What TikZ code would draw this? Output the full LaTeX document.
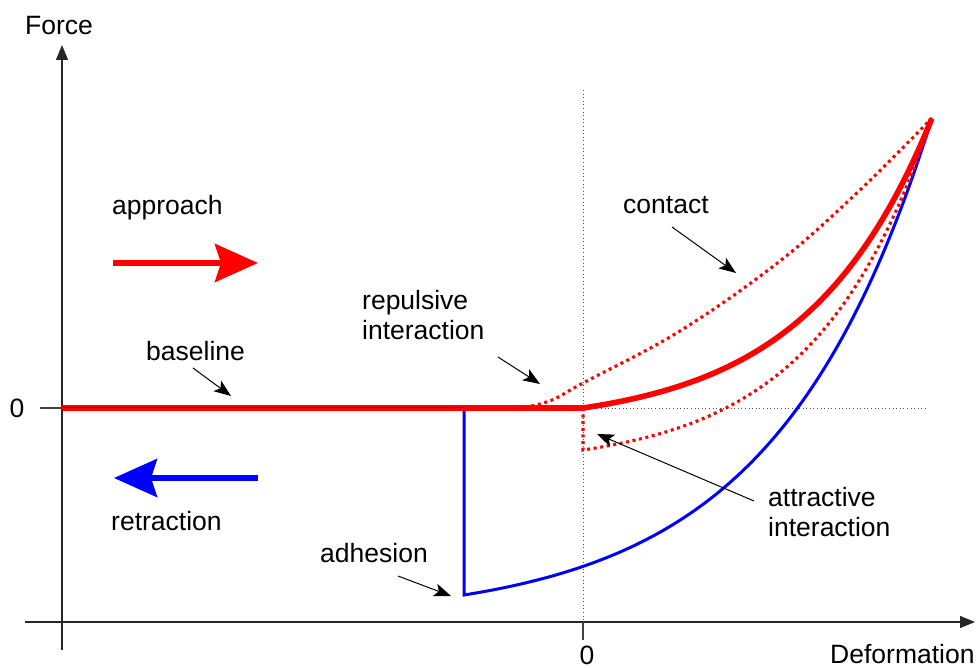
\documentclass[tikz,border=0pt]{standalone}
\usepackage{fontspec}
\setmainfont{Liberation Sans}
\usetikzlibrary{arrows.meta}
\begin{document}
\begin{tikzpicture}[x=1pt,y=-1pt,
  lbl/.style={anchor=west,inner sep=0pt,font=\fontsize{26.5}{30}\selectfont,align=left},
  axisline/.style={line width=1.3pt,draw=black!85,-{Triangle[length=15pt,width=12pt]}},
  tick/.style={line width=1.3pt,draw=black!75},
  note/.style={line width=1pt,-{Stealth[length=17pt,width=13pt,inset=4pt]}},
  bigarrow/.style={line width=5.5pt,-{Stealth[length=43pt,width=38pt,inset=6pt]}},
  guide/.style={line width=1pt,draw=black!70,dash pattern=on 1pt off 2.6pt},
  reddot/.style={draw=red,line width=3.1pt,dash pattern=on 3pt off 3.6pt},
  approachline/.style={draw=red,line width=5.6pt,line join=round},
  retractline/.style={draw=blue,line width=3pt,line join=miter}
]
\useasboundingbox (0,0) rectangle (977,668);

% axes
\coordinate (yb) at (62,650);
\coordinate (yt) at (62,45);
\coordinate (xl) at (25,622);
\coordinate (xr) at (975,622);
\draw[axisline] (yb) -- (yt);
\draw[axisline] (xl) -- (xr);
\coordinate (ty) at (40,408);
\coordinate (ya) at (62,408);
\coordinate (tx) at (583,640);
\coordinate (xa) at (583,622);
\draw[tick] (ty) -- (ya);
\draw[tick] (xa) -- (tx);

% guides
\coordinate (vt) at (583,90);
\coordinate (o) at (583,408);
\coordinate (hr) at (928,408);
\draw[guide] (vt) -- (xa);
\draw[guide] (o) -- (hr);

% retraction curve (blue)
\coordinate (b0) at (62,408);
\coordinate (b1) at (464,408);
\coordinate (b2) at (464,595);
\draw[retractline] (b1) -- (b2)
  -- plot[domain=0:1,samples=80] ({464+468*\x},{595-477*(exp(3*\x)-1)/(exp(3)-1)});

% dotted red curves
\draw[reddot] plot[smooth,tension=0.6] coordinates {(525,407.5) (552,400) (583,383) (680,331) (780,261) (860,190) (932,118)};
\coordinate (d1) at (583,450);
\draw[reddot] (o) -- (d1)
  -- plot[domain=0:1,samples=80] ({583+349*\x},{450-332*(exp(3*\x)-1)/(exp(3)-1)});

% approach curve (red)
\draw[approachline] (b0) -- (o)
  -- plot[domain=0:1,samples=80] ({583+349*\x},{408-290*(exp(2.8*\x)-1)/(exp(2.8)-1)});
% retraction baseline shows through
\coordinate (bb0) at (63,407.5);
\coordinate (bb1) at (464,407.5);
\draw[draw=blue,line width=1.2pt] (bb0) -- (bb1);

% big direction arrows
\coordinate (ap1) at (113,263);
\coordinate (ap2) at (258,263);
\coordinate (re1) at (258,478);
\coordinate (re2) at (114,478);
\draw[bigarrow,draw=red,fill=red] (ap1) -- (ap2);
\draw[bigarrow,draw=blue,fill=blue] (re1) -- (re2);

% labels
\node[lbl] (force) at (25,26) {Force};
\node[lbl] (deform) at (830,654) {Deformation};
\node[lbl,anchor=center] (zy) at (17,408) {0};
\node[lbl,anchor=center] (zx) at (587,655) {0};
\node[lbl] (approach) at (112,208) {approach};
\node[lbl] (retraction) at (111,521) {retraction};
\node[lbl] (contact) at (623,205) {contact};
\node[lbl] (baseline) at (146,351) {baseline};
\node[lbl] (repulsive) at (362,315) {repulsive\\interaction};
\node[lbl] (attractive) at (768,512) {attractive\\interaction};
\node[lbl] (adhesion) at (320,553) {adhesion};

% annotation arrows
\coordinate (nb1) at (193,368); \coordinate (nb2) at (231,396);
\coordinate (nr1) at (498,357); \coordinate (nr2) at (540,384);
\coordinate (nc1) at (672,227); \coordinate (nc2) at (736,273);
\coordinate (na1) at (754,501); \coordinate (na2) at (597,434);
\coordinate (nd1) at (398,576); \coordinate (nd2) at (451,596);
\draw[note] (nb1) -- (nb2);
\draw[note] (nr1) -- (nr2);
\draw[note] (nc1) -- (nc2);
\draw[note] (na1) -- (na2);
\draw[note] (nd1) -- (nd2);
\end{tikzpicture}
\end{document}
